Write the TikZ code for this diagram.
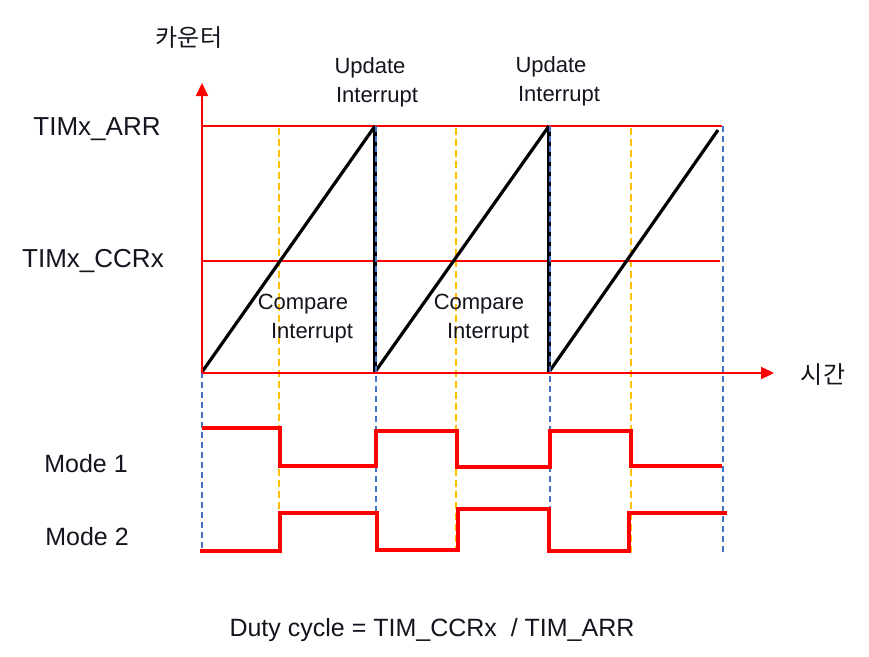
\documentclass[tikz,border=0pt]{standalone}
\usepackage{fontspec}
\setmainfont{Liberation Sans}
\newfontfamily\kor{Noto Sans CJK KR}
\usetikzlibrary{arrows.meta}
\definecolor{axred}{RGB}{255,0,0}
\definecolor{dblue}{RGB}{68,114,196}
\definecolor{dorange}{RGB}{255,192,0}
\definecolor{txt}{RGB}{20,20,30}
\begin{document}
\begin{tikzpicture}[x=1pt,y=-1pt,
  axis/.style={axred,line width=2.2pt,-{Triangle[length=13pt,width=12pt]}},
  level/.style={axred,line width=1.5pt},
  saw/.style={black,line width=3.2pt},
  drop/.style={black,line width=4.5pt},
  bdash/.style={dblue,line width=1.5pt,dash pattern=on 6pt off 4pt},
  odash/.style={dorange,line width=1.7pt,dash pattern=on 7pt off 4pt},
  sig/.style={axred,line width=3.2pt},
  lbl/.style={font=\fontsize{22}{26}\selectfont,text=txt,inner sep=0pt},
  big/.style={font=\fontsize{26}{30}\selectfont,text=txt,inner sep=0pt},
  mode/.style={font=\fontsize{25}{30}\selectfont,text=txt,inner sep=0pt},
  korl/.style={font=\kor\fontsize{24}{28}\selectfont,text=txt,inner sep=0pt}]
\useasboundingbox (0,0) rectangle (869,656);
% dashed guides
\foreach \x/\t in {202/372,376/126,550/126,723/126}
  \draw[bdash] (\x,\t) -- (\x,552);
\foreach \x in {279,456,631}
  \draw[odash] (\x,128) -- (\x,552);
% levels
\draw[level] (202,126) -- (722,126);
\draw[level] (202,261) -- (720,261);
% saw
\coordinate (s0) at (202,372);
\coordinate (p1) at (375,126);
\coordinate (s1) at (375,372);
\coordinate (p2) at (549,126);
\coordinate (s2) at (549,372);
\coordinate (p3) at (718,130);
\draw[saw] (s0) -- (p1);
\draw[saw] (s1) -- (p2);
\draw[saw] (s2) -- (p3);
\draw[drop] (p1) -- (s1);
\draw[drop] (p2) -- (s2);
\draw[bdash,line width=1.3pt] (376,126) -- (376,372);
\draw[bdash,line width=1.3pt] (550,126) -- (550,372);
% axes
\coordinate (o) at (202,373);
\coordinate (yt) at (202,83);
\coordinate (xt) at (774,373);
\draw[axis] (o) -- (yt);
\draw[axis] (o) -- (xt);
% signals
\draw[sig] (202,428) -- (280,428) -- (280,466) -- (376,466) -- (376,431) -- (457,431) -- (457,467) -- (550,467) -- (550,431) -- (631,431) -- (631,466) -- (722,466);
\draw[sig] (200,551) -- (280,551) -- (280,513) -- (377,513) -- (377,550) -- (458,550) -- (458,509) -- (551,509);
\draw[sig] (549,509) -- (549,551) -- (629,551) -- (629,513) -- (727,513);
% labels
\node[korl] (ylab) at (189,38) {카운터};
\node[korl] (xlab) at (823,375) {시간};
\node[big] (arr) at (97,129) {TIMx\_ARR};
\node[big] (ccr) at (93,261) {TIMx\_CCRx};
\node[lbl] (u1a) at (370,68) {Update};
\node[lbl] (u1b) at (377,97) {Interrupt};
\node[lbl] (u2a) at (551,67) {Update};
\node[lbl] (u2b) at (559,96) {Interrupt};
\node[lbl] (c1a) at (303,304) {Compare};
\node[lbl] (c1b) at (312,333) {Interrupt};
\node[lbl] (c2a) at (479,304) {Compare};
\node[lbl] (c2b) at (488,333) {Interrupt};
\node[mode] (m1) at (86,464) {Mode 1};
\node[mode] (m2) at (87,537) {Mode 2};
\node[mode] (duty) at (432,630) {Duty cycle = TIM\_CCRx\ \ / TIM\_ARR};
\end{tikzpicture}
\end{document}
